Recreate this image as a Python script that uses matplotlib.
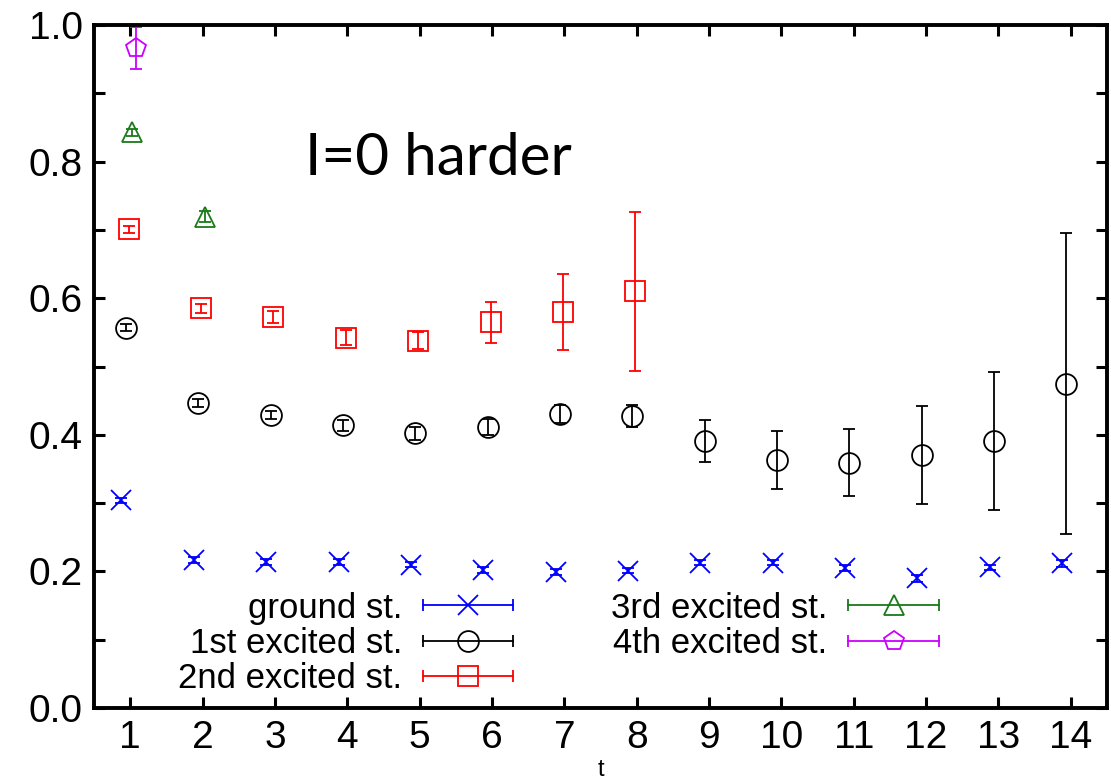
import numpy as np
import matplotlib
matplotlib.use("Agg")
import matplotlib.pyplot as plt
from matplotlib.lines import Line2D
from matplotlib.legend_handler import HandlerLine2D, HandlerTuple

# ---------------- data ----------------
t_ground = [1, 2, 3, 4, 5, 6, 7, 8, 9, 10, 11, 12, 13, 14]
ground = [0.304, 0.217, 0.214, 0.214, 0.210, 0.202, 0.199, 0.201,
          0.213, 0.213, 0.205, 0.190, 0.206, 0.212]
ground_err = [0.004, 0.004, 0.004, 0.004, 0.004, 0.004, 0.004, 0.004,
              0.004, 0.004, 0.004, 0.005, 0.004, 0.005]

t_first = [1, 2, 3, 4, 5, 6, 7, 8, 9, 10, 11, 12, 13, 14]
first = [0.557, 0.446, 0.429, 0.414, 0.402, 0.411, 0.430, 0.427,
         0.391, 0.363, 0.359, 0.370, 0.391, 0.475]
first_err = [0.005, 0.006, 0.006, 0.008, 0.010, 0.012, 0.013, 0.016,
             0.031, 0.043, 0.049, 0.072, 0.101, 0.220]

t_second = [1, 2, 3, 4, 5, 6, 7, 8]
second = [0.701, 0.585, 0.572, 0.542, 0.538, 0.565, 0.580, 0.610]
second_err = [0.005, 0.007, 0.009, 0.011, 0.012, 0.030, 0.056, 0.116]

t_third = [1, 2]
third = [0.843, 0.719]
third_err = [0.005, 0.008]

t_fourth = [1]
fourth = [0.966]
fourth_err = [0.031]

labels = ['ground st.', '1st excited st.', '2nd excited st.',
          '3rd excited st.', '4th excited st.']

# ---------------- style ----------------
series = [
    (t_ground, ground, ground_err, '#0000ff', 'x', 15, -0.12),
    (t_first, first, first_err, '#000000', 'o', 15, -0.06),
    (t_second, second, second_err, '#ff0000', 's', 15, -0.02),
    (t_third, third, third_err, '#1a7a1a', '^', 15, 0.03),
    (t_fourth, fourth, fourth_err, '#cc00ff', 'p', 15, 0.08),
]

plt.rcParams['font.family'] = ['Liberation Sans', 'DejaVu Sans']

fig = plt.figure(figsize=(11.11, 7.83), dpi=100)
ax = fig.add_axes([0.0846, 0.0958, 0.9118, 0.8722])

handles = []
for (tx, y, e, col, mk, ms, shift), lab in zip(series, labels):
    x = np.array(tx) + shift
    ax.errorbar(x, y, yerr=e, fmt=mk, color=col, mfc='none', mec=col,
                ms=ms, mew=1.3, elinewidth=1.3, capsize=4, capthick=1.3)
    cap_line = Line2D([], [], color=col, lw=1.3, marker='|', ms=9, mew=1.3)
    mark = Line2D([], [], color=col, ls='none', marker=mk, mfc='none',
                  ms=ms, mew=1.3)
    handles.append((cap_line, mark))

hmap = {h[0]: HandlerLine2D(numpoints=2, marker_pad=0) for h in handles}
hmap[tuple] = HandlerTuple(ndivide=1, pad=0)
leg = ax.legend(handles, labels, ncol=2, loc='lower left',
                bbox_to_anchor=(0.066, -0.007), frameon=False, borderpad=0,
                markerfirst=False, fontsize=25, handlelength=2.6,
                handletextpad=0.6, columnspacing=2.82, labelspacing=0.07,
                handler_map=hmap)

ax.text(0.208, 0.805, 'I=0 harder', transform=ax.transAxes,
        fontsize=42, family=['Lato', 'DejaVu Sans'], va='center', ha='left')

ax.set_xlim(0.5, 14.5)
ax.set_ylim(0.0, 1.0)
ax.set_xticks(range(1, 15))
ax.set_yticks(np.arange(0, 1.01, 0.2))
ax.set_yticks(np.arange(0.1, 1.0, 0.2), minor=True)
ax.set_yticklabels(['%.1f' % v for v in np.arange(0, 1.01, 0.2)])

for lbl in ax.get_xticklabels() + ax.get_yticklabels():
    lbl.set_fontsize(28)

ax.tick_params(which='both', direction='in', top=True, right=True,
               length=8, width=2.2)
ax.tick_params(axis='x', pad=9)
ax.tick_params(axis='y', pad=8)
for sp in ax.spines.values():
    sp.set_linewidth(2.8)

ax.set_xlabel('t', fontsize=17, labelpad=2)

fig.savefig('out.png', dpi=100, facecolor='white')
